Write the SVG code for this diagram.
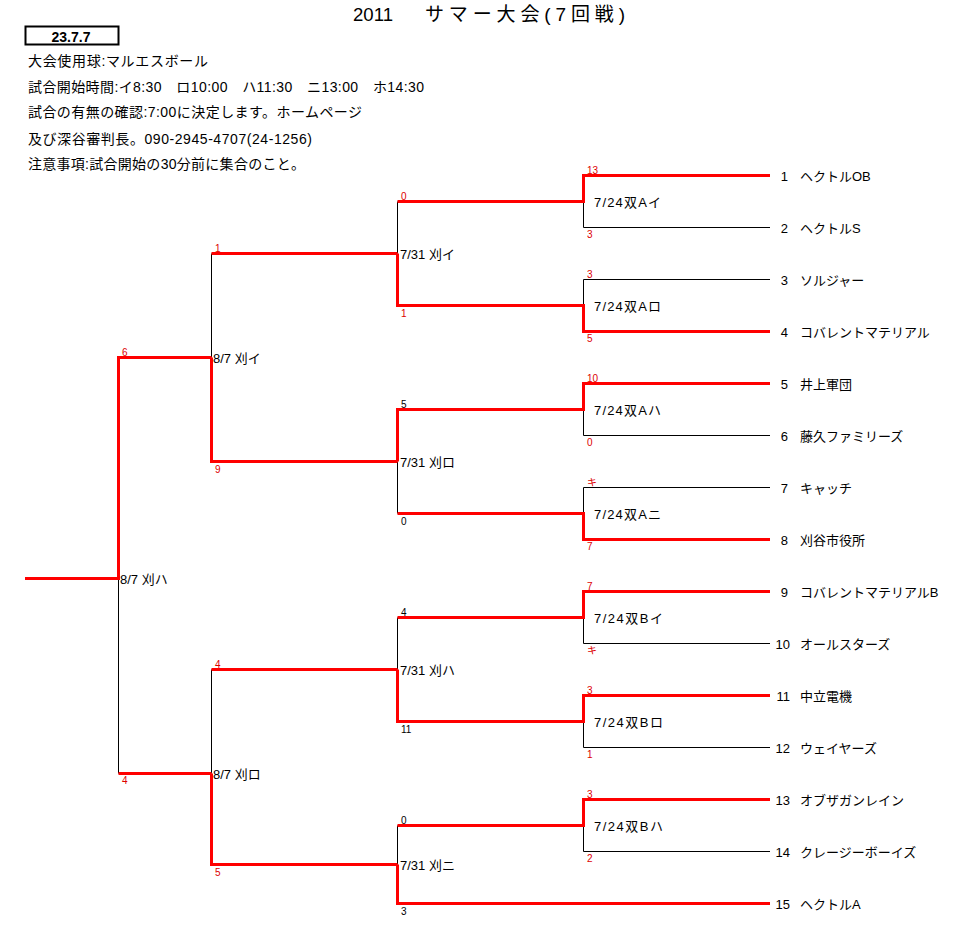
<svg xmlns="http://www.w3.org/2000/svg" width="972" height="948" viewBox="0 0 972 948">
<style>
text{font-family:"Liberation Sans","Noto Sans CJK JP",sans-serif;fill:#000}
.title{font-size:19px}
.hdr{font-size:14px}
.date{font-size:14px;font-weight:bold}
.team{font-size:13px}
.num{font-size:13px;text-anchor:end}
.lbl{font-size:13px}
.sr{font-size:10px;fill:#dd0000}
.sb{font-size:10px;fill:#000}
.blk{stroke:#000;stroke-width:1;fill:none}
.red{stroke:#ff0000;stroke-width:3;fill:none}
</style>
<rect width="972" height="948" fill="#fff"/>
<g id="header">
<text class="title" x="353" y="21" textLength="40" lengthAdjust="spacingAndGlyphs">2011</text>
<text class="title" x="425" y="21" textLength="200" lengthAdjust="spacing">サマー大会(7回戦)</text>
<rect x="25.5" y="26.5" width="93" height="18" fill="none" stroke="#000" stroke-width="2"/>
<text class="date" x="71" y="42" text-anchor="middle">23.7.7</text>
<text class="hdr" x="28" y="66" textLength="180" lengthAdjust="spacing">大会使用球:マルエスボール</text>
<text class="hdr" x="28" y="92" textLength="396" lengthAdjust="spacing">試合開始時間:イ8:30　ロ10:00　ハ11:30　ニ13:00　ホ14:30</text>
<text class="hdr" x="28" y="117" textLength="334" lengthAdjust="spacing">試合の有無の確認:7:00に決定します。ホームページ</text>
<text class="hdr" x="28" y="144" textLength="284" lengthAdjust="spacing">及び深谷審判長。090-2945-4707(24-1256)</text>
<text class="hdr" x="28" y="169" textLength="277" lengthAdjust="spacing">注意事項:試合開始の30分前に集合のこと。</text>
</g>
<g id="connectors">
<path class="blk" d="M118.5 578.5V773.5 M211.5 253.5V357.5 M211.5 669.5V773.5 M397.5 201.5V253.5 M397.5 461.5V513.5 M397.5 617.5V669.5 M397.5 825.5V864.5 M583.5 201.5V227.5H770 M583.5 305.5V279.5H770 M583.5 409.5V435.5H770 M583.5 513.5V487.5H770 M583.5 617.5V643.5H770 M583.5 721.5V747.5H770 M583.5 825.5V851.5H770"/>
<path class="red" d="M25 578.5H118.5V357.5H211.5 M118.5 773.5H211.5 M211.5 253.5H397.5 M211.5 357.5V461.5H397.5 M211.5 669.5H397.5 M211.5 773.5V864.5H397.5 M397.5 201.5H583.5V175.5H770 M397.5 253.5V305.5H583.5V331.5H770 M397.5 461.5V409.5H583.5V383.5H770 M397.5 513.5H583.5V539.5H770 M397.5 617.5H583.5V591.5H770 M397.5 669.5V721.5H583.5V695.5H770 M397.5 825.5H583.5V799.5H770 M397.5 864.5V903.5H770"/>
</g>
<g id="match-final">
<text class="lbl" x="120" y="584">8/7 刈ハ</text>
<text class="sr" x="122" y="356">6</text>
<text class="sr" x="122" y="784">4</text>
</g>
<g id="match-8-7-i">
<text class="lbl" x="213" y="363">8/7 刈イ</text>
<text class="sr" x="215" y="252">1</text>
<text class="sr" x="215" y="473">9</text>
</g>
<g id="match-8-7-ro">
<text class="lbl" x="213" y="779">8/7 刈ロ</text>
<text class="sr" x="215" y="668">4</text>
<text class="sr" x="215" y="876">5</text>
</g>
<g id="match-7-31-i">
<text class="lbl" x="400" y="259">7/31 刈イ</text>
<text class="sr" x="401" y="200">0</text>
<text class="sr" x="401" y="317">1</text>
</g>
<g id="match-7-31-ro">
<text class="lbl" x="400" y="467">7/31 刈ロ</text>
<text class="sb" x="401" y="408">5</text>
<text class="sb" x="401" y="525">0</text>
</g>
<g id="match-7-31-ha">
<text class="lbl" x="400" y="675">7/31 刈ハ</text>
<text class="sb" x="401" y="616">4</text>
<text class="sb" x="401" y="733">11</text>
</g>
<g id="match-7-31-ni">
<text class="lbl" x="400" y="870">7/31 刈ニ</text>
<text class="sb" x="401" y="824">0</text>
<text class="sb" x="401" y="915">3</text>
</g>
<g id="match-A-i">
<text class="lbl" x="594" y="207" textLength="67" lengthAdjust="spacing">7/24双Aイ</text>
<text class="sr" x="587" y="174">13</text>
<text class="sr" x="587" y="238">3</text>
</g>
<g id="match-A-ro">
<text class="lbl" x="594" y="311" textLength="67" lengthAdjust="spacing">7/24双Aロ</text>
<text class="sr" x="587" y="278">3</text>
<text class="sr" x="587" y="342">5</text>
</g>
<g id="match-A-ha">
<text class="lbl" x="594" y="415" textLength="67" lengthAdjust="spacing">7/24双Aハ</text>
<text class="sr" x="587" y="382">10</text>
<text class="sr" x="587" y="446">0</text>
</g>
<g id="match-A-ni">
<text class="lbl" x="594" y="519" textLength="67" lengthAdjust="spacing">7/24双Aニ</text>
<text class="sr" x="587" y="486">キ</text>
<text class="sr" x="587" y="550">7</text>
</g>
<g id="match-B-i">
<text class="lbl" x="594" y="623" textLength="69" lengthAdjust="spacing">7/24双Bイ</text>
<text class="sr" x="587" y="590">7</text>
<text class="sr" x="587" y="654">キ</text>
</g>
<g id="match-B-ro">
<text class="lbl" x="594" y="727" textLength="69" lengthAdjust="spacing">7/24双Bロ</text>
<text class="sr" x="587" y="694">3</text>
<text class="sr" x="587" y="758">1</text>
</g>
<g id="match-B-ha">
<text class="lbl" x="594" y="831" textLength="69" lengthAdjust="spacing">7/24双Bハ</text>
<text class="sr" x="587" y="798">3</text>
<text class="sr" x="587" y="862">2</text>
</g>
<g id="team-1"><text class="num" x="788" y="181">1</text><text class="team" x="800" y="181">ヘクトルOB</text></g>
<g id="team-2"><text class="num" x="788" y="233">2</text><text class="team" x="800" y="233">ヘクトルS</text></g>
<g id="team-3"><text class="num" x="788" y="285">3</text><text class="team" x="800" y="285">ソルジャー</text></g>
<g id="team-4"><text class="num" x="788" y="337">4</text><text class="team" x="800" y="337">コバレントマテリアル</text></g>
<g id="team-5"><text class="num" x="788" y="389">5</text><text class="team" x="800" y="389">井上軍団</text></g>
<g id="team-6"><text class="num" x="788" y="441">6</text><text class="team" x="800" y="441">藤久ファミリーズ</text></g>
<g id="team-7"><text class="num" x="788" y="493">7</text><text class="team" x="800" y="493">キャッチ</text></g>
<g id="team-8"><text class="num" x="788" y="545">8</text><text class="team" x="800" y="545">刈谷市役所</text></g>
<g id="team-9"><text class="num" x="788" y="597">9</text><text class="team" x="800" y="597">コバレントマテリアルB</text></g>
<g id="team-10"><text class="num" x="790" y="649">10</text><text class="team" x="800" y="649">オールスターズ</text></g>
<g id="team-11"><text class="num" x="790" y="701">11</text><text class="team" x="800" y="701">中立電機</text></g>
<g id="team-12"><text class="num" x="790" y="753">12</text><text class="team" x="800" y="753">ウェイヤーズ</text></g>
<g id="team-13"><text class="num" x="790" y="805">13</text><text class="team" x="800" y="805">オブザガンレイン</text></g>
<g id="team-14"><text class="num" x="790" y="857">14</text><text class="team" x="800" y="857">クレージーボーイズ</text></g>
<g id="team-15"><text class="num" x="790" y="909">15</text><text class="team" x="800" y="909">ヘクトルA</text></g>
</svg>
